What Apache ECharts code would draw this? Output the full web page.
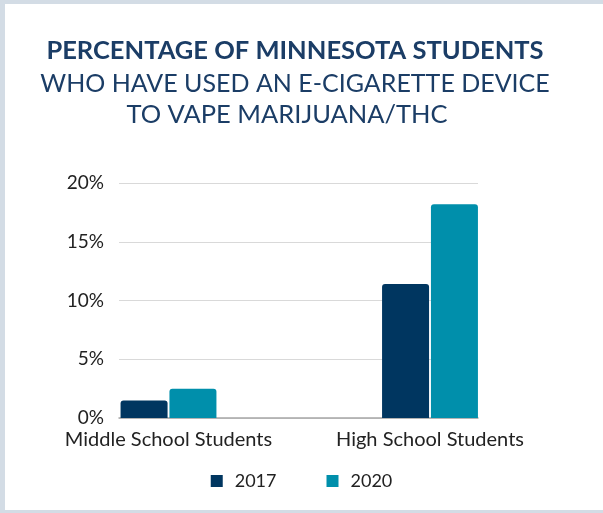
<!DOCTYPE html>
<html>
<head>
<meta charset="utf-8">
<script src="https://cdn.jsdelivr.net/npm/echarts@6/dist/echarts.min.js"></script>
<style>
  html, body { margin: 0; padding: 0; background: #ffffff; }
  #chart { width: 603px; height: 513px; }
</style>
</head>
<body>
<div id="chart"></div>
<script>
// Share of students who used an e-cigarette device to vape marijuana/THC (%)
const categories = ['Middle School Students', 'High School Students'];
const seriesNames = ['2017', '2020'];
const values2017 = [1.5, 11.4];
const values2020 = [2.5, 18.2];
const yTicks = [0, 5, 10, 15, 20];
const titleLines = [
  'PERCENTAGE OF MINNESOTA STUDENTS',
  'WHO HAVE USED AN E-CIGARETTE DEVICE',
  'TO VAPE MARIJUANA/THC'
];

const FONT = 'Lato, "Open Sans", sans-serif';
const NAVY = '#003660';
const TEAL = '#008fab';
const TITLE = '#1b3d66';
const BORDER = '#d3dce5';

const chart = echarts.init(document.getElementById('chart'), null, { renderer: 'canvas' });

const yMin = yTicks[0];
const yMax = yTicks[yTicks.length - 1];
const yStep = yTicks[1] - yTicks[0];

chart.setOption({
  animation: false,
  backgroundColor: '#ffffff',
  textStyle: { fontFamily: FONT },
  graphic: [
    // frame: left, top and bottom edges
    { type: 'rect', left: 0, top: 0, shape: { width: 5, height: 513 }, style: { fill: BORDER }, z: 100 },
    { type: 'rect', left: 0, top: 0, shape: { width: 603, height: 4 }, style: { fill: BORDER }, z: 100 },
    { type: 'rect', left: 0, top: 510, shape: { width: 603, height: 3 }, style: { fill: BORDER }, z: 100 },
    {
      type: 'text', x: 295, y: 64,
      style: { text: titleLines[0], fill: TITLE, font: 'bold 25.5px ' + FONT, textAlign: 'center', textVerticalAlign: 'bottom' }
    },
    {
      type: 'text', x: 295, y: 96,
      style: { text: titleLines[1], fill: TITLE, font: '25px ' + FONT, textAlign: 'center', textVerticalAlign: 'bottom' }
    },
    {
      type: 'text', x: 287, y: 128,
      style: { text: titleLines[2], fill: TITLE, font: '25.5px ' + FONT, textAlign: 'center', textVerticalAlign: 'bottom' }
    }
  ],
  legend: {
    data: seriesNames,
    top: 467,
    left: 'center',
    itemWidth: 12,
    itemHeight: 12,
    itemGap: 50,
    icon: 'rect',
    textStyle: { fontSize: 18, color: '#222', fontFamily: FONT, padding: [0, 0, 0, 7] }
  },
  grid: [
    // gridlines and value axis
    { left: 119, right: 125, top: 183, bottom: 95 },
    // bars and category labels
    { left: 37.75, right: 42.25, top: 183, bottom: 95 }
  ],
  xAxis: [
    {
      gridIndex: 0, type: 'category', data: categories,
      axisLine: { show: true, lineStyle: { color: '#a6a6a6', width: 1.5 } },
      axisTick: { show: false }, axisLabel: { show: false }
    },
    {
      gridIndex: 1, type: 'category', data: categories,
      axisLine: { show: false }, axisTick: { show: false },
      axisLabel: { interval: 0, hideOverlap: false, fontSize: 20, color: '#222', margin: 12, fontFamily: FONT }
    }
  ],
  yAxis: [
    {
      gridIndex: 0, type: 'value', min: yMin, max: yMax, interval: yStep,
      axisLine: { show: false }, axisTick: { show: false },
      axisLabel: { formatter: '{value}%', fontSize: 19, color: '#222', margin: 15, fontFamily: FONT },
      splitLine: { lineStyle: { color: '#d9d9d9', width: 1 } }
    },
    {
      gridIndex: 1, type: 'value', min: yMin, max: yMax, interval: yStep,
      show: false, splitLine: { show: false }
    }
  ],
  series: [
    {
      name: seriesNames[0], type: 'bar', xAxisIndex: 1, yAxisIndex: 1,
      data: values2017, barWidth: 47, barGap: '4%',
      itemStyle: { color: NAVY, borderRadius: [3, 3, 0, 0] }, z: 5
    },
    {
      name: seriesNames[1], type: 'bar', xAxisIndex: 1, yAxisIndex: 1,
      data: values2020, barWidth: 47, barGap: '4%',
      itemStyle: { color: TEAL, borderRadius: [3, 3, 0, 0] }, z: 5
    }
  ]
});
</script>
</body>
</html>
